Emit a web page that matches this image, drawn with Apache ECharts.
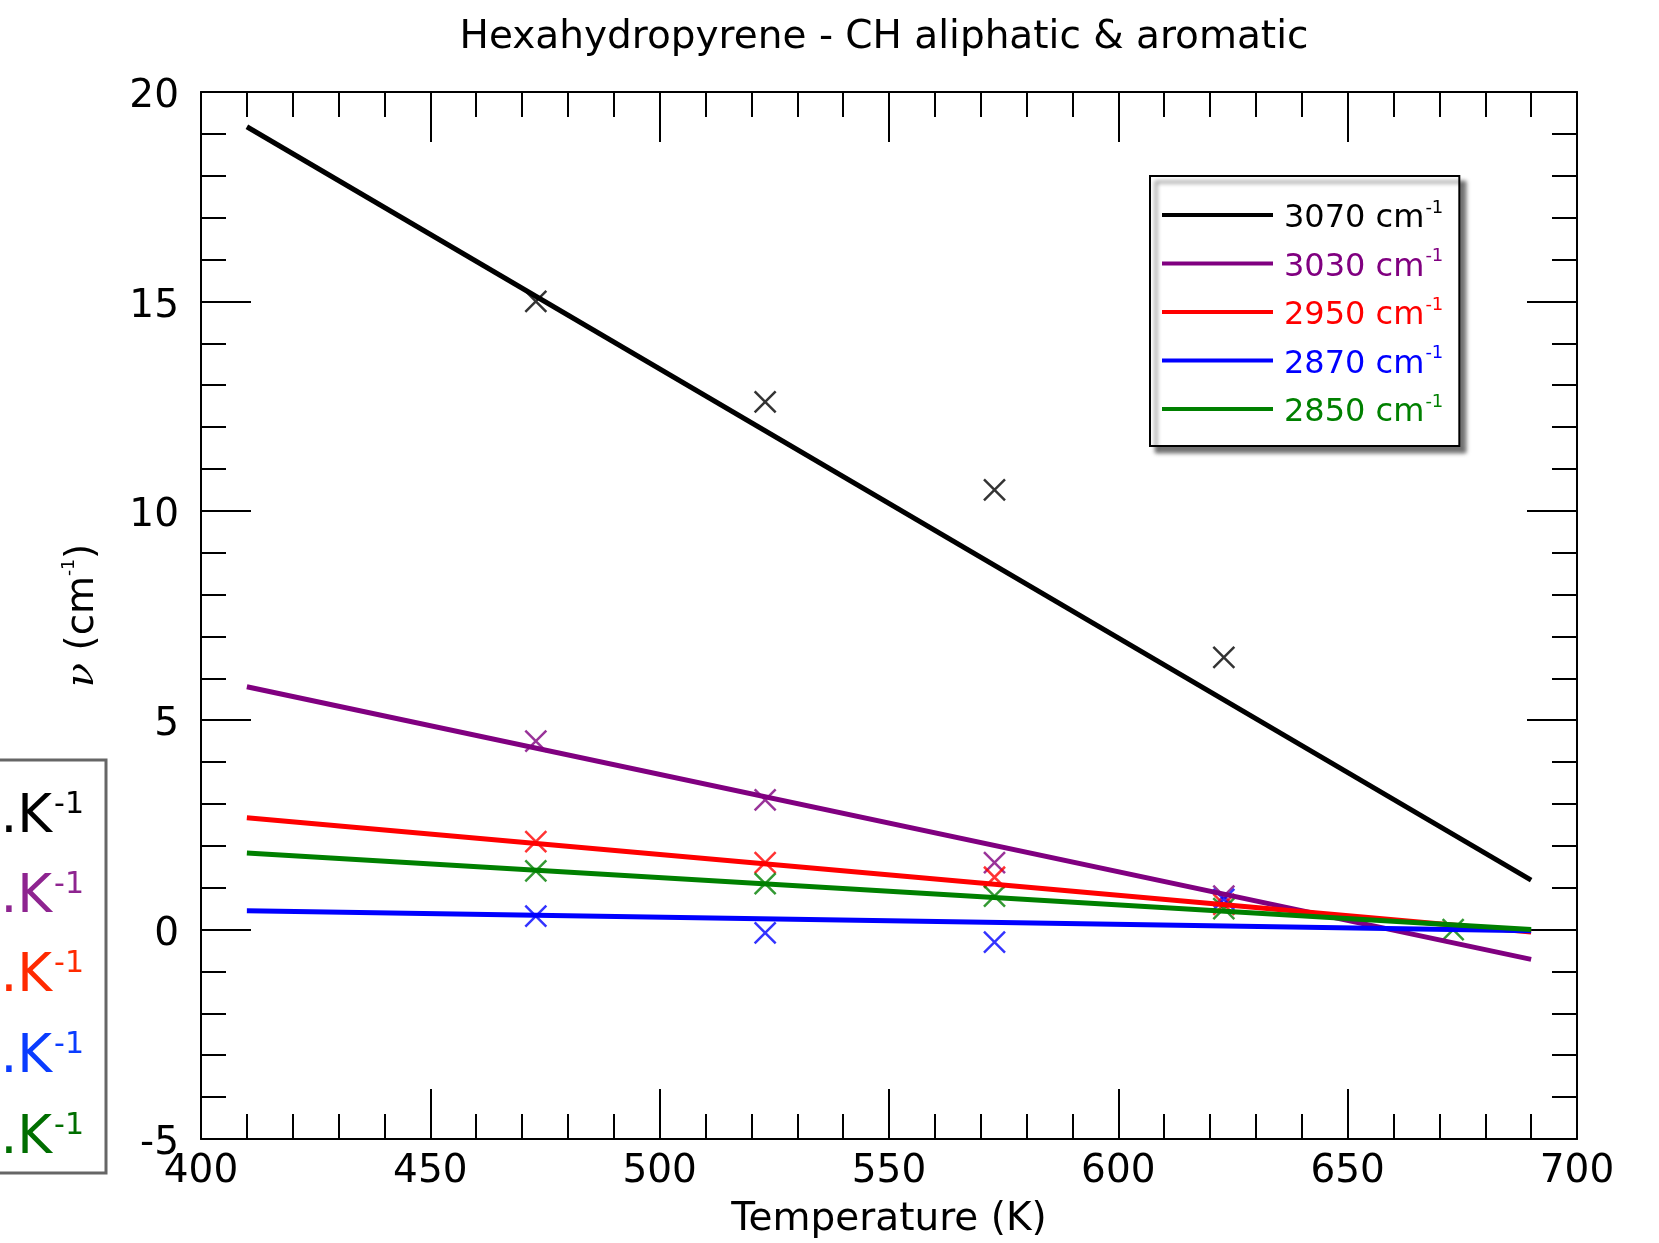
<!DOCTYPE html>
<html>
<head>
<meta charset="utf-8">
<title>Hexahydropyrene - CH aliphatic &amp; aromatic</title>
<script src="https://cdn.jsdelivr.net/npm/echarts@6/dist/echarts.min.js"></script>
<style>
  html, body { margin: 0; padding: 0; background: #ffffff; }
  #chart { width: 1659px; height: 1243px; }
</style>
</head>
<body>
<div id="chart"></div>
<script>
// Band positions (cm-1) and their colours
const bandNames = ['3070', '3030', '2950', '2870', '2850'];
const bandColors = ['#000000', '#800080', '#ff0000', '#0000ff', '#008000'];
const slopeTextColors = ['#000000', '#8e2490', '#ff2a00', '#0a3cff', '#006e00'];

// Measured band shifts (cm-1) at each temperature (K)
const temperatures = [473, 523, 573, 623, 673];
const shift3070 = [15.0, 12.6, 10.5, 6.5, null];
const shift3030 = [4.5, 3.1, 1.6, 0.8, null];
const shift2950 = [2.1, 1.6, 1.25, 0.6, null];
const shift2870 = [0.32, -0.08, -0.3, 0.72, null];
const shift2850 = [1.4, 1.1, 0.8, 0.5, 0.0];

// Linear fits, evaluated at both ends of the fitted range
const fitTemps = [410, 690];
const fit3070 = [19.17, 1.18];
const fit3030 = [5.8, -0.71];
const fit2950 = [2.67, -0.06];
const fit2870 = [0.45, -0.03];
const fit2850 = [1.83, 0.0];

// Fitted slopes (cm-1.K-1)
const slopeLabels = ['-0.064', '-0.023', '-0.0097', '-0.0017', '-0.0065'];

// Axis ranges and tick spacing
const xRange = [400, 700];
const xStep = 50;
const yRange = [-5, 20];
const yStep = 5;

const SANS = '"DejaVu Sans", "Liberation Sans", sans-serif';
const SERIF = '"DejaVu Serif", "Liberation Serif", serif';

const shiftSets = [shift3070, shift3030, shift2950, shift2870, shift2850];
const fitSets = [fit3070, fit3030, fit2950, fit2870, fit2850];

const CROSS = 'path://M0,0L20,20M20,0L0,20';

const series = [];
bandNames.forEach((name, i) => {
  series.push({
    name: name,
    type: 'line',
    xAxisIndex: 0,
    yAxisIndex: 0,
    symbol: 'none',
    silent: true,
    color: bandColors[i],
    lineStyle: { color: bandColors[i], width: 5, cap: 'butt' },
    data: fitTemps.map((t, k) => [t, fitSets[i][k]])
  });
  series.push({
    name: name + ' data',
    type: 'scatter',
    xAxisIndex: 0,
    yAxisIndex: 0,
    symbol: CROSS,
    symbolSize: 21,
    silent: true,
    itemStyle: { color: 'rgba(0,0,0,0)', borderColor: bandColors[i], borderWidth: 2.5 },
    data: temperatures
      .map((t, k) => [t, shiftSets[i][k]])
      .filter(p => p[1] !== null)
  });
});

const axisLineStyle = { onZero: false, lineStyle: { color: '#000', width: 2 } };
const majorTick = { show: true, inside: true, length: 50, lineStyle: { color: '#000', width: 2 } };
const minorTick = { show: true, splitNumber: 5, length: 25, lineStyle: { color: '#000', width: 2 } };

function xAxisDef(position, withLabels) {
  return {
    type: 'value', position: position,
    min: xRange[0], max: xRange[1], interval: xStep,
    axisLine: axisLineStyle, axisTick: majorTick, minorTick: minorTick,
    splitLine: { show: false }, minorSplitLine: { show: false },
    axisLabel: withLabels
      ? { show: true, fontSize: 39, fontFamily: SANS, color: '#000', margin: 13 }
      : { show: false },
    name: withLabels ? 'Temperature (K)' : '',
    nameLocation: 'middle', nameGap: 61, nameMoveOverlap: false,
    nameTextStyle: { fontSize: 39, fontFamily: SANS, color: '#000' }
  };
}

function yAxisDef(position, withLabels) {
  return {
    type: 'value', position: position,
    min: yRange[0], max: yRange[1], interval: yStep,
    axisLine: axisLineStyle, axisTick: majorTick, minorTick: minorTick,
    splitLine: { show: false }, minorSplitLine: { show: false },
    axisLabel: withLabels
      ? {
          show: true, color: '#000', margin: 22,
          formatter: '{v|{value}}',
          rich: { v: { fontSize: 39, fontFamily: SANS, color: '#000', lineHeight: 40, padding: [10, 0, 0, 0] } }
        }
      : { show: false },
    name: withLabels ? '{nu|ν}{t| (cm}{s|-1}{t|)}' : '',
    nameLocation: 'middle', nameRotate: 90, nameGap: 96, nameMoveOverlap: false,
    nameTextStyle: {
      color: '#000',
      rich: {
        nu: { fontFamily: SERIF, fontStyle: 'italic', fontSize: 40, lineHeight: 44, color: '#000' },
        t: { fontFamily: SANS, fontSize: 39, lineHeight: 44, color: '#000' },
        s: { fontFamily: SANS, fontSize: 17, lineHeight: 28, verticalAlign: 'top', color: '#000' }
      }
    }
  };
}

// Slope annotation box on the left edge
const slopeGraphics = [{
  type: 'rect',
  z: 100,
  shape: { x: -30, y: 760, width: 136, height: 413 },
  style: { fill: '#ffffff', stroke: '#666666', lineWidth: 3 }
}];
const slopeRowMiddles = [818, 898, 977, 1058, 1139];
slopeLabels.forEach((s, i) => {
  slopeGraphics.push({
    type: 'text',
    z: 101,
    x: 84,
    y: slopeRowMiddles[i],
    style: {
      text: '{m|' + s + ' cm}{s|-1}{m|.K}{s|-1}',
      align: 'right',
      verticalAlign: 'middle',
      fill: slopeTextColors[i],
      rich: {
        m: { fontFamily: SANS, fontSize: 53, lineHeight: 56 },
        s: { fontFamily: SANS, fontSize: 30, lineHeight: 45, verticalAlign: 'top', padding: [0, 0, 0, 2] }
      }
    }
  });
});

const option = {
  animation: false,
  backgroundColor: '#ffffff',
  title: {
    text: 'Hexahydropyrene - CH aliphatic & aromatic',
    left: 884,
    top: 18,
    textAlign: 'center',
    padding: 0,
    textStyle: { fontSize: 39, fontWeight: 'normal', fontFamily: SANS, color: '#000' }
  },
  grid: {
    left: 201, top: 92, right: 82, bottom: 104,
    containLabel: false,
    outerBoundsMode: 'none'
  },
  legend: {
    orient: 'vertical',
    left: 1150,
    top: 176,
    padding: [19, 16, 17, 12],
    itemGap: 8.5,
    itemWidth: 111,
    itemHeight: 4,
    icon: 'rect',
    itemStyle: { borderWidth: 0 },
    backgroundColor: '#ffffff',
    borderColor: '#000000',
    borderWidth: 2,
    borderRadius: 0,
    shadowBlur: 4,
    shadowColor: 'rgba(0,0,0,0.55)',
    shadowOffsetX: 6,
    shadowOffsetY: 6,
    selectedMode: false,
    data: bandNames.map((n, i) => ({ name: n, textStyle: { color: bandColors[i] } })),
    formatter: name => '{t|' + name + ' cm}{s|-1}',
    textStyle: {
      rich: {
        t: { fontFamily: SANS, fontSize: 32, lineHeight: 36, padding: [8, 0, 0, 6] },
        s: { fontFamily: SANS, fontSize: 18, lineHeight: 18, padding: [2, 0, 0, 1], verticalAlign: 'top' }
      }
    }
  },
  xAxis: [xAxisDef('bottom', true), xAxisDef('top', false)],
  yAxis: [yAxisDef('left', true), yAxisDef('right', false)],
  graphic: slopeGraphics,
  series: series
};

const chart = echarts.init(document.getElementById('chart'), null, { renderer: 'canvas' });
chart.setOption(option);
</script>
</body>
</html>
